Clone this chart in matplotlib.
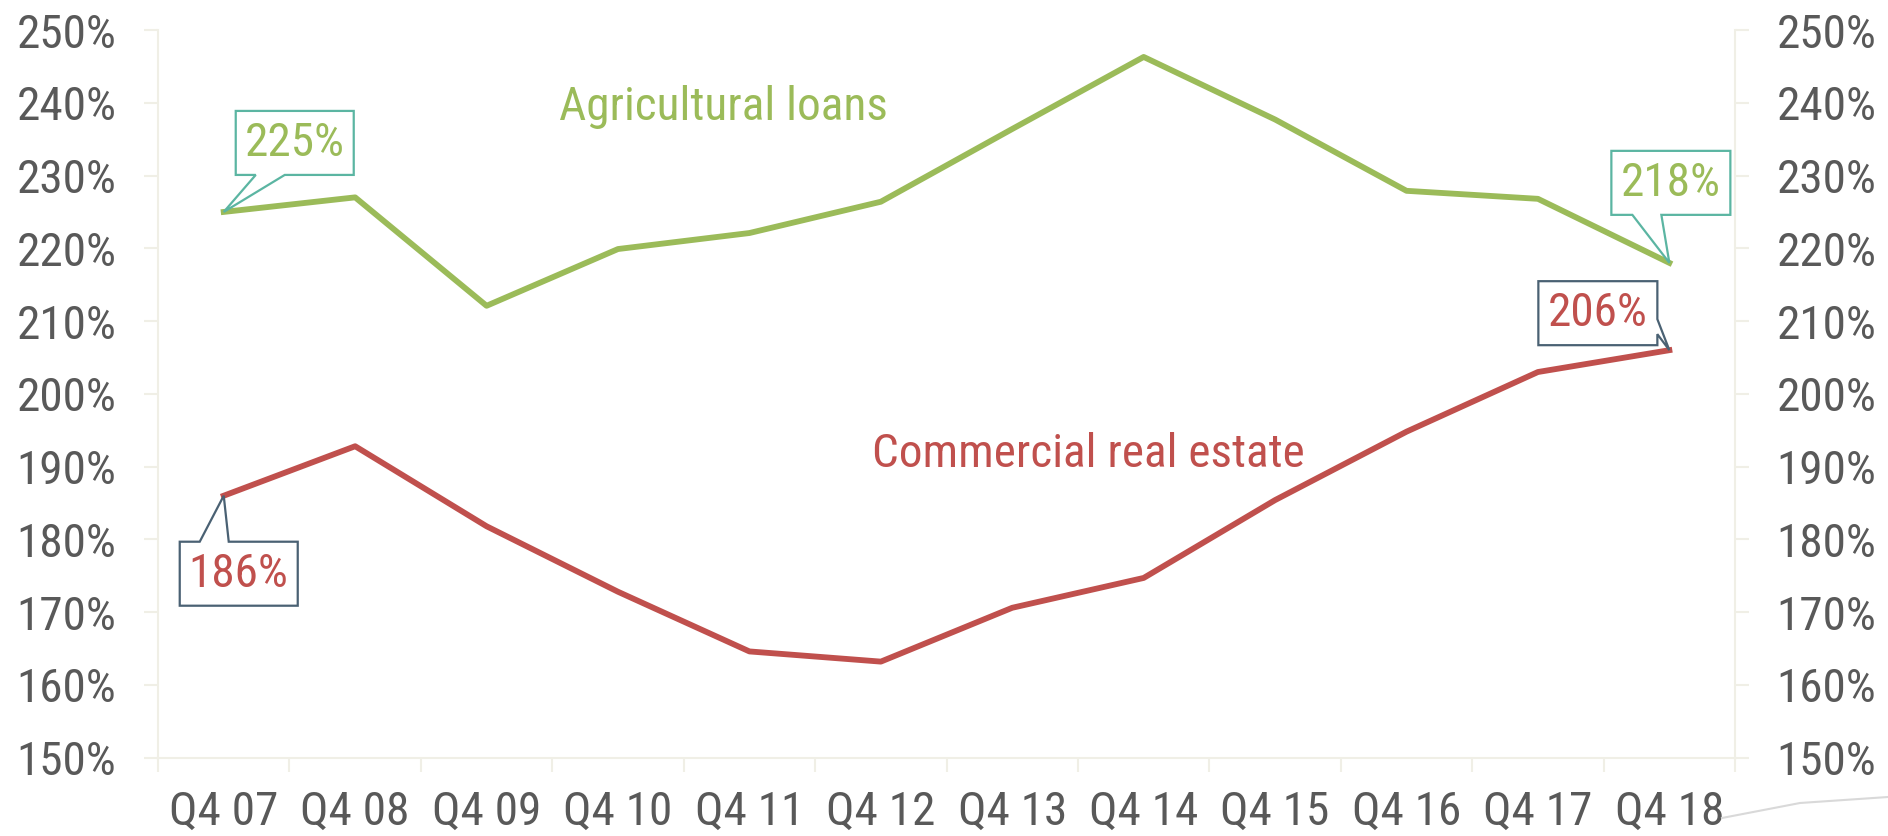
import numpy as np
import matplotlib
matplotlib.use("Agg")
import matplotlib.pyplot as plt
import matplotlib.transforms as mtransforms
from matplotlib.patches import Polygon
from matplotlib.lines import Line2D

# Year-end ratios for the two loan categories
quarters = ["Q4 07", "Q4 08", "Q4 09", "Q4 10", "Q4 11", "Q4 12",
            "Q4 13", "Q4 14", "Q4 15", "Q4 16", "Q4 17", "Q4 18"]
agri_loans = [225, 227.0, 212.1, 219.9, 222.1, 226.4,
              236.4, 246.3, 237.7, 227.9, 226.8, 218]
cre_loans = [186, 192.8, 181.8, 172.8, 164.6, 163.2,
             170.6, 174.7, 185.4, 194.8, 203.0, 206]
y_ticks = list(range(150, 251, 10))

GREEN = "#9BBB59"
RED = "#C0504D"
TEAL = "#5BB5A2"
SLATE = "#4A6173"
AXIS = "#F0EFE6"
TEXT = "#595959"
FS = 34

plt.rcParams["font.family"] = ["Roboto Condensed", "DejaVu Sans"]

fig = plt.figure(figsize=(18.88, 8.36), dpi=100)
ax = fig.add_axes([0.0837, 0.0937, 0.8353, 0.8704])
x = np.arange(len(quarters))

ax.plot(x, agri_loans, color=GREEN, lw=4.2, zorder=3)
ax.plot(x, cre_loans, color=RED, lw=4.2, zorder=3)

# category axis: tick marks between quarters, labels centred on them
ax.set_xticks(np.arange(-0.5, len(quarters), 1))
ax.set_xticklabels([])
ax.set_xticks(x, quarters, minor=True)
ax.tick_params(axis="x", which="major", length=10, width=1.5, color=AXIS)
ax.tick_params(axis="x", which="minor", length=0, pad=23, labelsize=FS, labelcolor=TEXT)

ax.set_yticks(y_ticks, [f"{v}%" for v in y_ticks])
ax.tick_params(axis="y", length=10, width=1.5, color=AXIS, labelsize=FS,
               labelcolor=TEXT, pad=20)

for side in ["top", "right"]:
    ax.spines[side].set_visible(False)
for side in ["left", "bottom"]:
    ax.spines[side].set_color(AXIS)
    ax.spines[side].set_linewidth(1.5)

ax2 = ax.twinx()
ax2.set_yticks(y_ticks, [f"{v}%" for v in y_ticks])
ax2.tick_params(axis="y", length=10, width=1.5, color=AXIS, labelsize=FS,
                labelcolor=TEXT, pad=20)
for side in ["top", "left", "bottom"]:
    ax2.spines[side].set_visible(False)
ax2.spines["right"].set_color(AXIS)
ax2.spines["right"].set_linewidth(1.5)


def callout(xi, yi, verts, text_xy, edge, color):
    # shape is given in pixels relative to the data point
    trans = fig.dpi_scale_trans + mtransforms.ScaledTranslation(xi, yi, ax.transData)
    poly = Polygon(np.array(verts) / 100.0, closed=True, transform=trans,
                   facecolor="white", edgecolor=edge, lw=1.6, clip_on=False, zorder=5)
    ax.add_patch(poly)
    ax.text(text_xy[0] / 100.0, text_xy[1] / 100.0, f"{yi:.0f}%", transform=trans,
            ha="center", va="center", color=color, fontsize=FS, zorder=6)


last = len(quarters) - 1
callout(0, agri_loans[0],
        [(0, 0), (61, 37), (130, 37), (130, 101), (12, 101), (12, 37), (32, 37)],
        (71, 69), TEAL, GREEN)
callout(last, agri_loans[last],
        [(0, 0), (-8, 48), (61, 48), (61, 112), (-58, 112), (-58, 48), (-37, 48)],
        (1.5, 80), TEAL, GREEN)
callout(0, cre_loans[0],
        [(0, 0), (5, -46), (74, -46), (74, -110), (-44, -110), (-44, -46), (-24, -46)],
        (15, -78), SLATE, RED)
callout(last, cre_loans[last],
        [(0, 0), (-12, 16), (-12, 5), (-131, 5), (-131, 69), (-12, 69), (-12, 31)],
        (-71.5, 37), SLATE, RED)

ax.text(3.8, 239.4, "Agricultural loans", color=GREEN, fontsize=FS,
        ha="center", va="center")
ax.text(6.58, 191.7, "Commercial real estate", color=RED, fontsize=FS,
        ha="center", va="center")

ax.set_xlim(-0.5, len(quarters) - 0.5)
ax.set_ylim(150, 250)
ax2.set_ylim(150, 250)

# faint swoosh in the lower right corner
fig.add_artist(Line2D([1722 / 1888, 1800 / 1888, 1888 / 1888],
                      [1 - 818 / 836, 1 - 803 / 836, 1 - 797 / 836],
                      transform=fig.transFigure, color="#D9D9D9", lw=1.5))

fig.savefig("out.png", dpi=100, facecolor="white")
